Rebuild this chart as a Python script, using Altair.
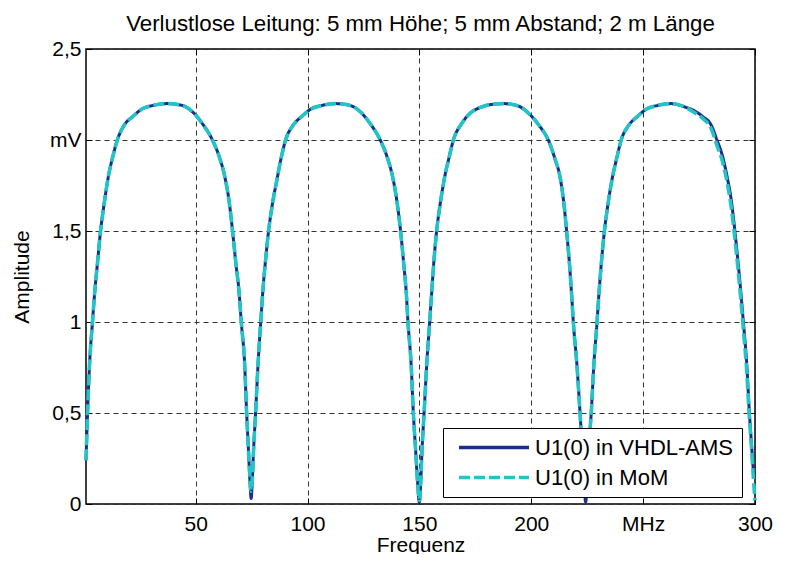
import altair as alt
import pandas as pd

# Frequency samples (MHz)
freq = [
    1.0, 1.7, 2.6, 3.9, 5.0, 6.1, 7.5, 9.0, 11.0, 13.0, 15.0, 18.0, 22.0, 26.0, 31.0, 37.5,
    44.0, 49.0, 53.0, 57.5, 60.5, 63.0, 65.0, 66.5, 68.0, 69.3, 70.4, 71.9, 72.8, 73.6, 74.3, 74.8,
    75.4, 75.9, 76.8, 77.9, 79.1, 80.1, 81.1, 82.6, 84.2, 86.3, 88.2, 90.2, 93.5, 97.5, 101.5, 106.5, 112.5,
    119.0, 124.0, 128.0, 132.5, 135.5, 138.0, 140.0, 141.6, 143.0, 144.2, 144.9, 146.3, 147.3, 148.3, 149.2, 150.0,
    150.7, 151.2, 152.1, 153.3, 154.6, 155.6, 156.4, 157.7, 159.2, 161.2, 163.2, 165.2, 168.9, 173.0, 177.5, 182.0, 187.5,
    193.5, 199.4, 203.5, 207.6, 210.5, 212.8, 214.5, 215.8, 217.2, 218.2, 218.8, 220.5, 221.8, 222.8, 223.6, 224.3,
    225.0, 225.7, 226.8, 228.0, 229.4, 230.4, 231.3, 232.7, 234.2, 236.2, 238.2, 240.2, 243.5, 247.5, 251.5, 256.5, 262.5,
    269.0, 273.0, 276.5, 280.5, 283.0, 285.5, 287.5, 289.5, 291.0, 292.5, 293.7, 294.8, 296.3, 297.5, 298.5, 299.3, 300.0,
]

# U1(0) in VHDL-AMS (mV)
vhdl = [
    0.24, 0.50, 0.77, 1.00, 1.18, 1.32, 1.50, 1.64, 1.80, 1.91, 2.00, 2.08, 2.13, 2.17, 2.19, 2.20,
    2.19, 2.15, 2.09, 2.00, 1.91, 1.80, 1.66, 1.50, 1.32, 1.18, 1.00, 0.77, 0.50, 0.30, 0.12, 0.03,
    0.15, 0.30, 0.50, 0.77, 1.00, 1.18, 1.32, 1.50, 1.64, 1.78, 1.90, 2.00, 2.08, 2.13, 2.17, 2.19, 2.20,
    2.19, 2.15, 2.09, 2.00, 1.91, 1.80, 1.66, 1.50, 1.32, 1.15, 1.00, 0.77, 0.50, 0.30, 0.12, 0.01,
    0.15, 0.30, 0.50, 0.77, 1.00, 1.18, 1.32, 1.50, 1.64, 1.79, 1.90, 2.00, 2.09, 2.15, 2.18, 2.195, 2.20,
    2.19, 2.14, 2.08, 2.00, 1.90, 1.80, 1.66, 1.50, 1.30, 1.12, 1.00, 0.75, 0.50, 0.30, 0.12, 0.01,
    0.12, 0.30, 0.50, 0.77, 1.00, 1.18, 1.32, 1.50, 1.64, 1.79, 1.90, 2.00, 2.08, 2.13, 2.17, 2.19, 2.20,
    2.18, 2.16, 2.13, 2.08, 2.00, 1.91, 1.80, 1.66, 1.50, 1.32, 1.16, 1.00, 0.77, 0.50, 0.32, 0.19, 0.17,
]

# U1(0) in MoM (mV)
mom = [
    0.24, 0.50, 0.77, 1.00, 1.18, 1.32, 1.50, 1.64, 1.80, 1.91, 2.00, 2.08, 2.13, 2.17, 2.19, 2.20,
    2.19, 2.15, 2.09, 2.00, 1.91, 1.80, 1.66, 1.50, 1.32, 1.18, 1.00, 0.77, 0.50, 0.30, 0.14, 0.07,
    0.15, 0.30, 0.50, 0.77, 1.00, 1.18, 1.32, 1.50, 1.64, 1.78, 1.90, 2.00, 2.08, 2.13, 2.17, 2.19, 2.20,
    2.19, 2.15, 2.09, 2.00, 1.91, 1.80, 1.66, 1.50, 1.32, 1.15, 1.00, 0.77, 0.50, 0.30, 0.12, 0.02,
    0.15, 0.30, 0.50, 0.77, 1.00, 1.18, 1.32, 1.50, 1.64, 1.79, 1.90, 2.00, 2.09, 2.15, 2.18, 2.195, 2.20,
    2.19, 2.14, 2.08, 2.00, 1.90, 1.80, 1.66, 1.50, 1.30, 1.12, 1.00, 0.75, 0.50, 0.30, 0.14, 0.05,
    0.12, 0.30, 0.50, 0.77, 1.00, 1.18, 1.32, 1.50, 1.64, 1.79, 1.90, 2.00, 2.08, 2.13, 2.17, 2.19, 2.20,
    2.18, 2.15, 2.12, 2.06, 1.97, 1.88, 1.77, 1.62, 1.46, 1.28, 1.12, 0.96, 0.73, 0.47, 0.30, 0.14, 0.02,
]

series_names = ["U1(0) in VHDL-AMS", "U1(0) in MoM"]
series_colors = ["#1c2b8c", "#22c4c4"]
series_dash = [[1, 0], [11, 4]]

x_ticks = [50, 100, 150, 200, 250, 300]
y_ticks = [0, 0.5, 1, 1.5, 2, 2.5]

title_text = "Verlustlose Leitung: 5 mm Höhe; 5 mm Abstand; 2 m Länge"

df = pd.DataFrame({
    "f": freq + freq,
    "v": vhdl + mom,
    "s": [series_names[0]] * len(freq) + [series_names[1]] * len(freq),
})

FONT = "Liberation Sans"
FS = 21
TICK = 6

legend = alt.Legend(
    title=None, orient="none", legendX=357, legendY=379, direction="vertical",
    symbolType="stroke", symbolSize=4900, symbolStrokeWidth=3.5, symbolOffset=6,
    labelFont=FONT, labelFontSize=22, labelColor="black", labelOffset=4, labelLimit=400,
    clipHeight=23, rowPadding=7,
    strokeColor="black", fillColor="white", padding=8,
)

y_label_expr = ("datum.value == 0 ? '0' : datum.value == 0.5 ? '0,5' : datum.value == 1 ? '1' : "
                "datum.value == 1.5 ? '1,5' : datum.value == 2 ? 'mV' : '2,5'")

x_scale = alt.Scale(domain=[1, 300], nice=False, zero=False)
y_scale = alt.Scale(domain=[0, 2.5], nice=False)

# main axes (bottom / left), ticks pointing into the plot
x_main = alt.X("f:Q", scale=x_scale,
               axis=alt.Axis(orient="bottom", values=x_ticks, title="Frequenz",
                             labelExpr="datum.value == 250 ? 'MHz' : datum.label",
                             grid=True, gridDash=[5, 4], gridColor="#333333", gridOpacity=1,
                             ticks=True, tickSize=TICK, tickColor="black", tickWidth=1,
                             offset=-TICK, domain=False,
                             labelFont=FONT, labelFontSize=FS, labelColor="black", labelPadding=9,
                             labelFlush=False,
                             titleFont=FONT, titleFontSize=FS, titleFontWeight="normal",
                             titleColor="black", titlePadding=0))
y_main = alt.Y("v:Q", scale=y_scale,
               axis=alt.Axis(orient="left", values=y_ticks, title="Amplitude", labelExpr=y_label_expr,
                             grid=True, gridDash=[5, 4], gridColor="#333333", gridOpacity=1,
                             ticks=True, tickSize=TICK, tickColor="black", tickWidth=1,
                             offset=-TICK, domain=False,
                             labelFont=FONT, labelFontSize=FS, labelColor="black", labelPadding=5,
                             labelFlush=False,
                             titleFont=FONT, titleFontSize=FS, titleFontWeight="normal",
                             titleColor="black", titlePadding=17))

# mirror axes (top / right): only inward ticks, as in the box-style frame
x_top = alt.X("f:Q", scale=x_scale,
              axis=alt.Axis(orient="top", values=x_ticks, title=None, labels=False, grid=False,
                            ticks=True, tickSize=TICK, tickColor="black", tickWidth=1,
                            offset=-TICK, domain=False))
y_right = alt.Y("v:Q", scale=y_scale,
                axis=alt.Axis(orient="right", values=y_ticks, title=None, labels=False, grid=False,
                              ticks=True, tickSize=TICK, tickColor="black", tickWidth=1,
                              offset=-TICK, domain=False))

color_enc = alt.Color("s:N", scale=alt.Scale(domain=series_names, range=series_colors), legend=legend)
dash_enc = alt.StrokeDash("s:N", scale=alt.Scale(domain=series_names, range=series_dash), legend=legend)

navy = (alt.Chart(df)
        .transform_filter(alt.datum.s == series_names[0])
        .mark_line(strokeWidth=3, interpolate="monotone")
        .encode(x=x_main, y=y_main, color=color_enc, strokeDash=dash_enc))
cyan = (alt.Chart(df)
        .transform_filter(alt.datum.s == series_names[1])
        .mark_line(strokeWidth=3.6, interpolate="monotone")
        .encode(x=x_top, y=y_right, color=color_enc, strokeDash=dash_enc))

chart = alt.layer(navy, cyan).resolve_axis(x="independent", y="independent").properties(
    width=669, height=455,
    title=alt.TitleParams(title_text, font=FONT, fontSize=22.3, fontWeight="normal", color="black", offset=3),
    autosize=alt.AutoSizeParams(type="none"),
    padding={"left": 78, "top": 41, "right": 23, "bottom": 50},
).configure_view(stroke="black", strokeWidth=1.5)

chart.save("out.html", embed_options={"renderer": "svg", "actions": False})
